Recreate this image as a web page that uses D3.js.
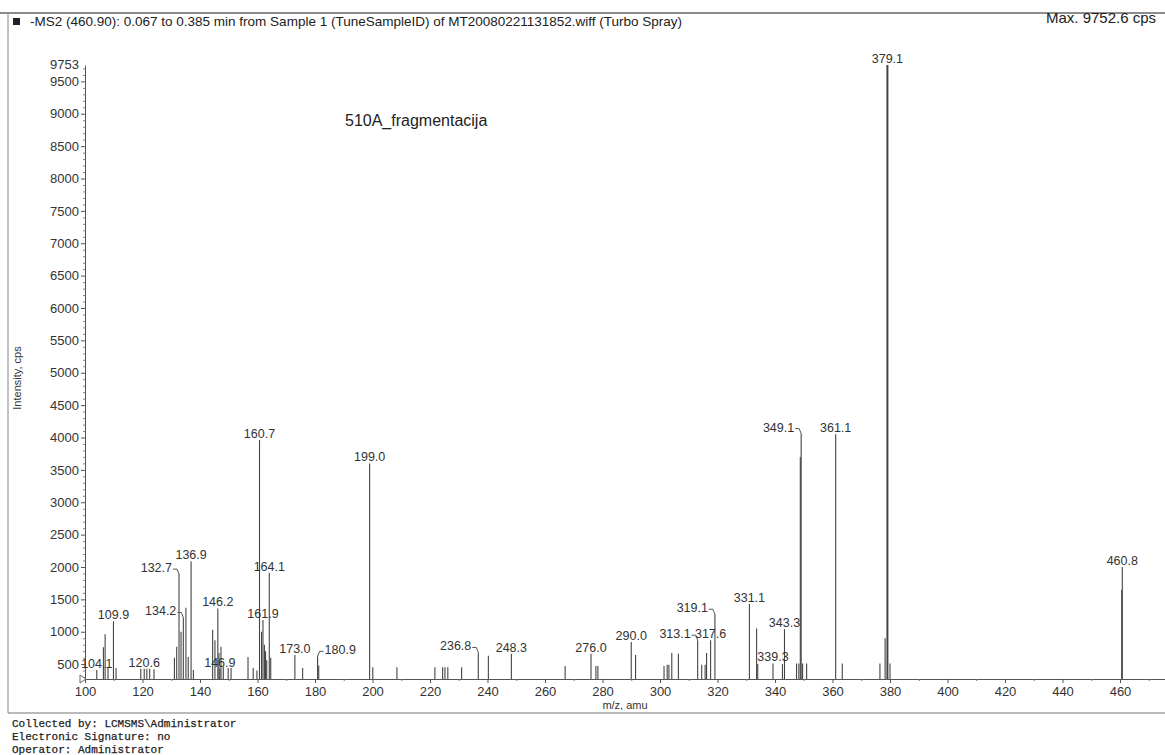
<!DOCTYPE html>
<html>
<head>
<meta charset="utf-8">
<script src="https://cdn.jsdelivr.net/npm/d3@7"></script>
<style>
  body { margin: 0; background: #fff; }
  svg { display: block; font-family: "Liberation Sans", Arial, sans-serif; }
  .tick text { fill: #333; }
</style>
</head>
<body>
<svg id="canvas" width="1165" height="755"></svg>
<script>
// m/z and intensity (cps) of every stick in the spectrum
const mz = [104.1,106.4,107.0,108.0,109.9,110.8,119.4,120.6,121.5,122.5,124.0,
  131.1,131.9,132.7,133.4,134.2,135.1,135.9,136.9,137.7,
  144.4,145.2,146.2,146.6,146.9,147.3,148.1,149.8,150.8,156.7,158.5,159.8,
  160.7,161.4,161.9,162.4,162.8,163.2,164.1,164.6,173.0,175.7,180.9,181.3,
  199.0,200.1,208.5,221.7,224.4,225.2,226.2,231.0,236.8,240.3,248.3,
  267.0,276.0,277.7,278.4,290.0,291.5,301.4,302.5,303.1,304.1,306.4,
  313.1,314.5,315.7,316.2,317.6,319.1,331.1,333.6,334.0,339.3,342.6,343.3,
  347.5,348.3,348.8,349.1,349.6,351.0,361.1,363.4,376.5,378.3,379.1,380.0,
  460.6,460.8]
const intensity = [410,760,960,450,1160,440,430,430,430,430,420,
  600,770,1890,1000,1220,1370,610,2090,410,
  1030,870,1360,670,430,770,460,440,440,610,440,400,
  3960,1000,1180,800,700,560,1910,600,640,440,620,480,
  3600,450,450,450,450,450,450,450,680,630,660,
  470,660,470,470,840,640,470,490,490,670,660,
  870,490,490,670,870,1270,1430,1050,500,510,500,1040,
  510,510,3700,4060,510,510,4050,510,510,900,9753,510,
  1650,2000]

// labelled peaks, and the ones whose label sits beside the stick
const labelled = [104.1,109.9,120.6,132.7,134.2,136.9,146.2,146.9,160.7,161.9,164.1,
  173.0,180.9,199.0,236.8,248.3,276.0,290.0,313.1,317.6,319.1,331.1,339.3,343.3,
  349.1,361.1,379.1,460.8]
const labelLeft = [132.7,134.2,236.8,313.1,319.1,349.1]
const labelRight = [180.9]

const xTicks = d3.range(100, 461, 20)
const yTicks = d3.range(500, 9501, 500)
const yMax = 9753

const title = "-MS2 (460.90): 0.067 to 0.385 min from Sample 1 (TuneSampleID) of MT20080221131852.wiff (Turbo Spray)"
const maxText = "Max. 9752.6 cps"
const sampleName = "510A_fragmentacija"
const footer = ["Collected by: LCMSMS\\Administrator", "Electronic Signature: no", "Operator: Administrator"]

const svg = d3.select("#canvas")
const peaks = mz.map((m, i) => ({ m: m, v: intensity[i] }))

const x = d3.scaleLinear().domain([100, 476]).range([85, 1166])
const y = d3.scaleLinear().domain([270, yMax]).range([679, 65])

// frame of the printout
svg.append("line").attr("x1", 0).attr("x2", 1165).attr("y1", 13).attr("y2", 13)
   .attr("stroke", "#666").attr("stroke-width", 1.5)
svg.append("line").attr("x1", 8).attr("x2", 8).attr("y1", 13).attr("y2", 713)
   .attr("stroke", "#888").attr("stroke-width", 1)
svg.append("line").attr("x1", 8).attr("x2", 1165).attr("y1", 713).attr("y2", 713)
   .attr("stroke", "#777").attr("stroke-width", 1.2)

svg.append("rect").attr("x", 13).attr("y", 18).attr("width", 7).attr("height", 7).attr("fill", "#222")
svg.append("text").attr("x", 30).attr("y", 26).attr("font-size", 13.5).attr("fill", "#222").text(title)
svg.append("text").attr("x", 1046).attr("y", 23).attr("font-size", 15).attr("fill", "#222").text(maxText)
svg.append("text").attr("x", 345).attr("y", 126).attr("font-size", 16).attr("fill", "#222").text(sampleName)

// x axis
const xAxis = svg.append("g").attr("transform", `translate(0,${y(270)})`)
   .call(d3.axisBottom(x).tickValues(xTicks).tickSize(4).tickSizeOuter(0).tickPadding(4))
xAxis.selectAll("text").attr("font-size", 13).attr("font-family", null)
xAxis.selectAll("line,path").attr("stroke", "#555")
svg.append("g").attr("transform", `translate(0,${y(270)})`)
   .call(d3.axisBottom(x).tickValues(d3.range(110, 476, 20)).tickSize(2).tickFormat(""))
   .call(g => g.select(".domain").remove())
   .selectAll("line").attr("stroke", "#777")

// y axis
const yAxis = svg.append("g").attr("transform", `translate(${x(100)},0)`)
   .call(d3.axisLeft(y).tickValues(yTicks).tickFormat(d3.format("d")).tickSize(4).tickSizeOuter(0).tickPadding(2))
yAxis.selectAll("text").attr("font-size", 13).attr("font-family", null)
yAxis.selectAll("line,path").attr("stroke", "#555")
svg.append("g").attr("transform", `translate(${x(100)},0)`)
   .call(d3.axisLeft(y).tickValues(d3.range(300, 9753, 100).filter(d => d % 500)).tickSize(2).tickFormat(""))
   .call(g => g.select(".domain").remove())
   .selectAll("line").attr("stroke", "#888")
svg.append("text").attr("x", x(100) - 6).attr("y", y(yMax)).attr("dy", "0.32em")
   .attr("text-anchor", "end").attr("font-size", 13).attr("fill", "#333").text(yMax)

// little origin marker
svg.append("path")
   .attr("d", `M${x(100) - 5},${y(270) - 4}L${x(100) + 1},${y(270)}L${x(100) - 5},${y(270) + 4}Z`)
   .attr("fill", "none").attr("stroke", "#666")

svg.append("text").attr("transform", `translate(21,${378}) rotate(-90)`)
   .attr("text-anchor", "middle").attr("font-size", 11).attr("fill", "#333").text("Intensity, cps")
svg.append("text").attr("x", 625).attr("y", 709).attr("text-anchor", "middle")
   .attr("font-size", 11).attr("fill", "#333").text("m/z, amu")

// sticks
svg.selectAll("line.peak")
   .data(peaks)
   .enter()
   .append("line")
   .attr("class", "peak")
   .attr("x1", d => x(d.m)).attr("x2", d => x(d.m))
   .attr("y1", y(270)).attr("y2", d => y(d.v))
   .attr("stroke", "#444")
   .attr("stroke-width", d => d.v > 5000 ? 2 : 1.1)

// peak labels
const lab = peaks.filter(d => labelled.includes(d.m))
const side = d => labelLeft.includes(d.m) ? -1 : labelRight.includes(d.m) ? 1 : 0
svg.selectAll("text.plabel")
   .data(lab)
   .enter()
   .append("text")
   .attr("class", "plabel")
   .attr("x", d => x(d.m) + side(d) * 7)
   .attr("y", d => y(d.v) - 2)
   .attr("text-anchor", d => side(d) < 0 ? "end" : side(d) > 0 ? "start" : "middle")
   .attr("font-size", 12.5)
   .attr("fill", "#333")
   .text(d => d.m.toFixed(1))
svg.selectAll("path.hook")
   .data(lab.filter(d => side(d) != 0))
   .enter()
   .append("path")
   .attr("class", "hook")
   .attr("d", d => {
     const px = x(d.m), py = y(d.v), s = side(d)
     return `M${px + s * 6},${py - 5}L${px + s * 2},${py - 5}L${px},${py}`
   })
   .attr("fill", "none").attr("stroke", "#555")

// footer
svg.selectAll("text.foot")
   .data(footer)
   .enter()
   .append("text")
   .attr("class", "foot")
   .attr("x", 12).attr("y", (d, i) => 727 + i * 13)
   .attr("font-family", "'Liberation Mono', 'Courier New', monospace")
   .attr("font-size", 11).attr("fill", "#222")
   .attr("stroke", "#222").attr("stroke-width", 0.25)
   .text(d => d)
</script>
</body>
</html>
